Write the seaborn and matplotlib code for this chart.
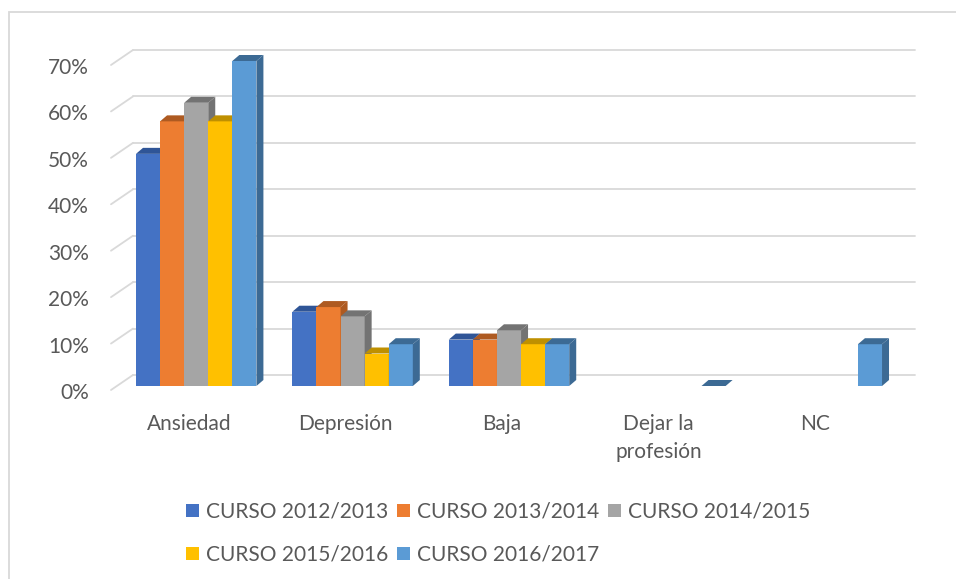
import matplotlib
matplotlib.use("Agg")
import matplotlib.pyplot as plt
import seaborn as sns
import pandas as pd
import numpy as np
from matplotlib.patches import Polygon, Patch, Rectangle
from matplotlib.lines import Line2D
from matplotlib.transforms import IdentityTransform, ScaledTranslation
from matplotlib.ticker import PercentFormatter

categories = ["Ansiedad", "Depresión", "Baja", "Dejar la\nprofesión", "NC"]
courses = ["CURSO 2012/2013", "CURSO 2013/2014", "CURSO 2014/2015",
           "CURSO 2015/2016", "CURSO 2016/2017"]
curso_2012_13 = [0.50, 0.16, 0.10, np.nan, np.nan]
curso_2013_14 = [0.57, 0.17, 0.10, np.nan, np.nan]
curso_2014_15 = [0.61, 0.15, 0.12, np.nan, np.nan]
curso_2015_16 = [0.57, 0.07, 0.09, np.nan, np.nan]
curso_2016_17 = [0.70, 0.09, 0.09, 0.00, 0.09]
yticks = [0, 0.1, 0.2, 0.3, 0.4, 0.5, 0.6, 0.7]

colors = ["#4472C4", "#ED7D31", "#A5A5A5", "#FFC000", "#5B9BD5"]
shades = ["#2F5597", "#AE5A21", "#737373", "#BF9000", "#3C6A94"]
text_color = "#595959"
grid_color = "#D9D9D9"

rows = []
for course, vals in zip(courses, [curso_2012_13, curso_2013_14, curso_2014_15,
                                  curso_2015_16, curso_2016_17]):
    for cat, v in zip(categories, vals):
        rows.append({"cat": cat, "curso": course, "val": v})
df = pd.DataFrame(rows).dropna()

sns.set_style("white")
plt.rcParams["font.family"] = ["Lato", "DejaVu Sans"]

fig = plt.figure(figsize=(9.56, 5.79), dpi=100)
ax = fig.add_axes([111 / 956, (579 - 386) / 579, 782 / 956, 325 / 579])
sns.barplot(data=df, x="cat", y="val", hue="curso", order=categories,
            hue_order=courses, palette=colors, width=0.77, saturation=1,
            linewidth=0, legend=False, ax=ax)
ax.set_xlim(-0.5, 4.5)
ax.set_ylim(0, 0.7)
for s in ax.spines.values():
    s.set_visible(False)
ax.grid(False)
ax.set_xlabel("")
ax.set_ylabel("")
ax.set_yticks(yticks)
ax.yaxis.set_major_formatter(PercentFormatter(1, decimals=0))
ax.tick_params(axis="y", length=0, pad=16, labelsize=15, labelcolor=text_color)
ax.tick_params(axis="x", length=0, pad=20, labelsize=15, labelcolor=text_color)
for lbl in ax.get_xticklabels():
    lbl.set_linespacing(1.5)
down = ScaledTranslation(0, -5 / 100, fig.dpi_scale_trans)
for lbl in ax.get_yticklabels():
    lbl.set_transform(lbl.get_transform() + down)

# depth of back wall and bars, pixels
wdx, wdy_front, wdy_back = 22, -4, 11
bdx, bdy = 7, 6
shift = ScaledTranslation(7 / 100, 0, fig.dpi_scale_trans)

# back wall gridlines + floor diagonals
wall = ax.transData + ScaledTranslation(wdx / 100, wdy_back / 100, fig.dpi_scale_trans)
for y in yticks:
    ax.plot([-0.5, 4.5], [y, y], transform=wall, color=grid_color, lw=1.3,
            zorder=1, clip_on=False)
    px, py = ax.transData.transform((-0.5, y))
    ax.add_line(Line2D([px, px + wdx], [py + wdy_front, py + wdy_back],
                       transform=IdentityTransform(),
                       color=grid_color, lw=1.3, zorder=1, clip_on=False))

# fake 3D faces on each bar
bars = []
for cont, shade in zip(ax.containers, shades):
    for p in cont.patches:
        if not np.isfinite(p.get_height()):
            continue
        p.set_transform(ax.transData + shift)
        bars.append((p.get_window_extent().x0, p, shade))
bars.sort(key=lambda b: b[0])
for i, (_, p, shade) in enumerate(bars):
    z = 3 + i * 0.01
    p.set_zorder(z)
    bb = p.get_window_extent()
    x0, x1, yb, yt = bb.x0, bb.x1, bb.y0, bb.y1
    top = Polygon([(x0, yt), (x1, yt), (x1 + bdx, yt + bdy), (x0 + bdx, yt + bdy)],
                  closed=True, transform=IdentityTransform(), facecolor=shade,
                  edgecolor="none", zorder=z + 0.001, clip_on=False)
    side = Polygon([(x1, yb), (x1, yt), (x1 + bdx, yt + bdy), (x1 + bdx, yb + bdy)],
                   closed=True, transform=IdentityTransform(), facecolor=shade,
                   edgecolor="none", zorder=z + 0.002, clip_on=False)
    ax.add_patch(top)
    ax.add_patch(side)
ax.set_xlim(-0.5, 4.5)
ax.set_ylim(0, 0.7)

# legend: row-wise order in 3 columns
handles = [Patch(facecolor=c, edgecolor="none") for c in colors]
order = [0, 3, 1, 4, 2]
fig.legend([handles[i] for i in order], [courses[i] for i in order],
           loc="upper left", bbox_to_anchor=(186 / 956, 1 - 502 / 579), ncol=3,
           frameon=False, fontsize=15, labelcolor=text_color,
           handlelength=0.62, handleheight=0.62, handletextpad=0.35,
           columnspacing=0.4, labelspacing=1.1, borderpad=0, borderaxespad=0)

# outer chart frame
fig.add_artist(Rectangle((8.5 / 956, -0.1), 1.2, 1.1 - 12.5 / 579,
                         transform=fig.transFigure, fill=False,
                         edgecolor=grid_color, lw=1.3))

fig.savefig("out.png", dpi=100)
